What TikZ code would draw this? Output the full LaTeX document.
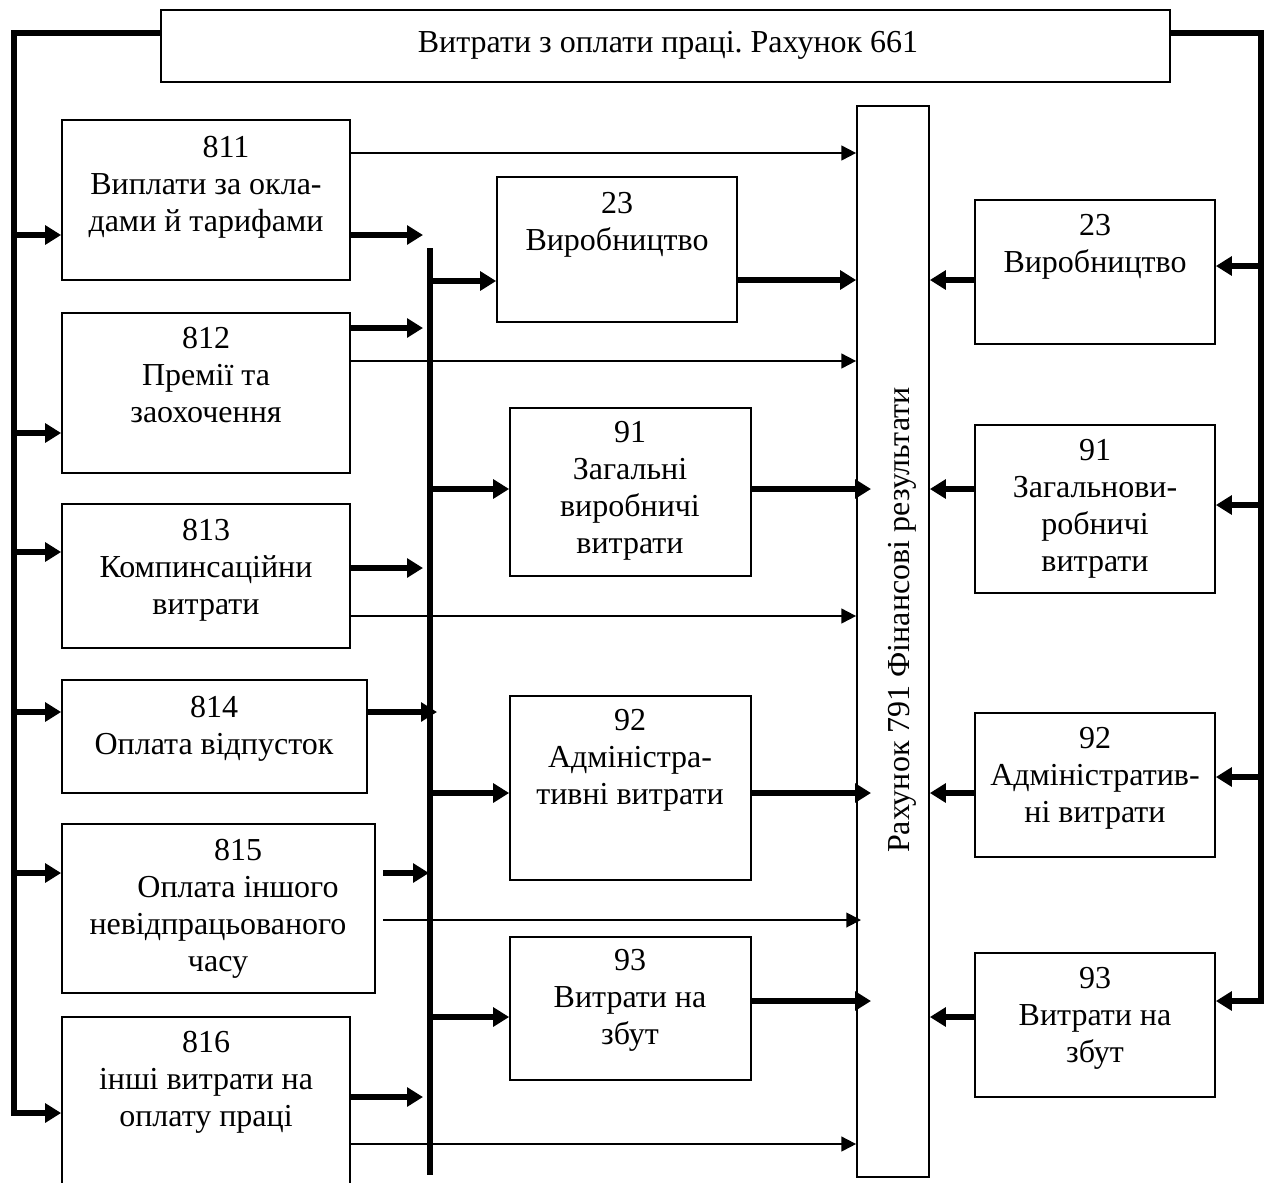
\documentclass[tikz,border=0pt]{standalone}
\usepackage{fontspec}
\setmainfont{Liberation Serif}
\usetikzlibrary{arrows.meta}
\frenchspacing
\begin{document}
\begin{tikzpicture}[x={0.75pt},y={-0.75pt},
  box/.style={draw, line width=1.3pt, inner sep=0pt, rectangle},
  sz/.style 2 args={minimum width=#1*0.75pt, minimum height=#2*0.75pt},
  txt/.style={align=center, inner sep=0pt, anchor=north, font=\fontsize{24}{27.75}\selectfont\frenchspacing, execute at begin node=\strut},
  thk/.style={line width=4.6pt, -{Triangle[length=12pt,width=14pt]}},
  bus/.style={line width=4.6pt, line join=miter},
  thkbus/.style={bus, -{Triangle[length=12pt,width=14pt]}},
  thn/.style={line width=1.4pt, -{Triangle[length=11pt,width=11pt]}}]
\useasboundingbox (0,0) rectangle (1270,1182);
\clip (0,0) rectangle (1270,1182);

% boxes
\node[box, sz={1009}{72}] (b661) at (665.5,46) {};
\node[box, sz={288}{160}] (b811) at (206,200) {};
\node[box, sz={288}{160}] (b812) at (206,393) {};
\node[box, sz={288}{144}] (b813) at (206,576) {};
\node[box, sz={305}{113}] (b814) at (214.5,736.5) {};
\node[box, sz={313}{169}] (b815) at (218.5,908.5) {};
\node[box, sz={288}{173}] (b816) at (206,1103.5) {};
\node[box, sz={240}{145}] (b23c) at (617,249.5) {};
\node[box, sz={241}{168}] (b91c) at (630.5,492) {};
\node[box, sz={241}{184}] (b92c) at (630.5,788) {};
\node[box, sz={241}{143}] (b93c) at (630.5,1008.5) {};
\node[box, sz={72}{1071}] (b791) at (893,641.5) {};
\node[box, sz={240}{144}] (b23r) at (1095,272) {};
\node[box, sz={240}{168}] (b91r) at (1095,509) {};
\node[box, sz={240}{144}] (b92r) at (1095,785) {};
\node[box, sz={240}{144}] (b93r) at (1095,1025) {};

% texts
\node[txt, anchor=base] (t661) at (668,52) {Витрати з оплати праці. Рахунок 661};
\node[txt] (t811) at (206,136) {\hspace*{30pt}811\\Виплати за окла-\\дами й тарифами};
\node[txt] (t812) at (206,327) {812\\Премії та\\заохочення};
\node[txt] (t813) at (206,519) {813\\Компинсаційни\\витрати};
\node[txt] (t814) at (214,696) {814\\Оплата відпусток};
\node[txt] (t815) at (218,839) {\hspace*{30pt}815\\\hspace*{30pt}Оплата іншого\\невідпрацьованого\\часу};
\node[txt] (t816) at (206,1031) {816\\інші витрати на\\оплату праці};
\node[txt] (t23c) at (617,192) {23\\Виробництво};
\node[txt] (t91c) at (630,421) {91\\Загальні\\виробничі\\витрати};
\node[txt] (t92c) at (630,709) {92\\Адміністра-\\тивні витрати};
\node[txt] (t93c) at (630,949) {93\\Витрати на\\збут};
\node[txt] (t23r) at (1095,214) {23\\Виробництво};
\node[txt] (t91r) at (1095,439) {91\\Загальнови-\\робничі\\витрати};
\node[txt] (t92r) at (1095,727) {92\\Адміністратив-\\ні витрати};
\node[txt] (t93r) at (1095,967) {93\\Витрати на\\збут};
\node[txt, rotate=90, anchor=base] (t791) at (909,620) {Рахунок 791 Фінансові результати};

% helper coordinates
\coordinate (LBt) at (14,33);
\coordinate (LBb) at (14,1113);
\coordinate (RBt) at (1261,33);
\coordinate (RBb) at (1261,1001);
\coordinate (CBt) at (430,248);
\coordinate (CBb) at (430,1175);
\coordinate (CBin) at (423,0);
\coordinate (CB814) at (437,0);
\coordinate (CB815) at (429,0);
\coordinate (S815) at (383,0);
\coordinate (Rdeep) at (871,0);
\coordinate (R815) at (861,0);

% thin arrows to account 791
\draw[thn] (b811.east |- 0,153) -- (b791.west |- 0,153);
\draw[thn] (b812.east |- 0,361) -- (b791.west |- 0,361);
\draw[thn] (b813.east |- 0,616) -- (b791.west |- 0,616);
\draw[thn] (S815 |- 0,920) -- (R815 |- 0,920);
\draw[thn] (b816.east |- 0,1144) -- (b791.west |- 0,1144);

% buses
\draw[thkbus] (b661.west |- LBt) -- (LBt) -- (LBb) -- (b816.west |- LBb);
\draw[thkbus] (b661.east |- RBt) -- (RBt) -- (RBb) -- (b93r.east |- RBb);
\draw[bus] (CBt) -- (CBb);

% left bus to left boxes
\draw[thk] (LBt |- 0,235) -- (b811.west |- 0,235);
\draw[thk] (LBt |- 0,433) -- (b812.west |- 0,433);
\draw[thk] (LBt |- 0,552) -- (b813.west |- 0,552);
\draw[thk] (LBt |- 0,712) -- (b814.west |- 0,712);
\draw[thk] (LBt |- 0,873) -- (b815.west |- 0,873);

% left boxes to centre bus
\draw[thk] (b811.east |- 0,235) -- (CBin |- 0,235);
\draw[thk] (b812.east |- 0,328) -- (CBin |- 0,328);
\draw[thk] (b813.east |- 0,568) -- (CBin |- 0,568);
\draw[thk] (b814.east |- 0,712) -- (CB814 |- 0,712);
\draw[thk] (S815 |- 0,873) -- (CB815 |- 0,873);
\draw[thk] (b816.east |- 0,1097) -- (CBin |- 0,1097);

% centre bus to centre boxes
\draw[thk] (CBt |- 0,281) -- (b23c.west |- 0,281);
\draw[thk] (CBt |- 0,489) -- (b91c.west |- 0,489);
\draw[thk] (CBt |- 0,793) -- (b92c.west |- 0,793);
\draw[thk] (CBt |- 0,1017) -- (b93c.west |- 0,1017);

% centre boxes to account 791
\draw[thk] (b23c.east |- 0,280) -- (b791.west |- 0,280);
\draw[thk] (b91c.east |- 0,489) -- (Rdeep |- 0,489);
\draw[thk] (b92c.east |- 0,793) -- (Rdeep |- 0,793);
\draw[thk] (b93c.east |- 0,1001) -- (Rdeep |- 0,1001);

% right boxes to account 791
\draw[thk] (b23r.west |- 0,280) -- (b791.east |- 0,280);
\draw[thk] (b91r.west |- 0,489) -- (b791.east |- 0,489);
\draw[thk] (b92r.west |- 0,793) -- (b791.east |- 0,793);
\draw[thk] (b93r.west |- 0,1017) -- (b791.east |- 0,1017);

% right bus to right boxes
\draw[thk] (RBt |- 0,266) -- (b23r.east |- 0,266);
\draw[thk] (RBt |- 0,505) -- (b91r.east |- 0,505);
\draw[thk] (RBt |- 0,777) -- (b92r.east |- 0,777);
\end{tikzpicture}
\end{document}
